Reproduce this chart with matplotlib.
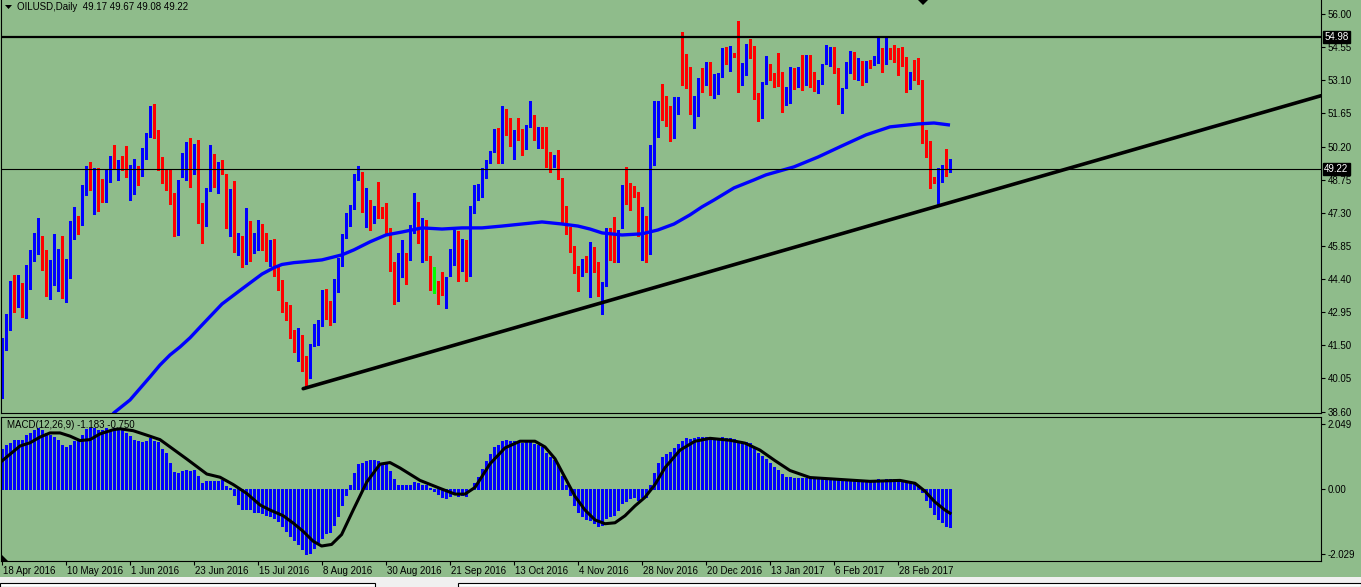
import matplotlib
matplotlib.use('Agg')
import matplotlib.pyplot as plt
import matplotlib.transforms as mtransforms
from matplotlib.patches import Rectangle, Polygon
import numpy as np

plt.rcParams['font.family'] = ['Liberation Sans', 'DejaVu Sans']

# ---- OILUSD daily candles ----
opens = [40.34,41.52,42.39,44.01,43.53,43.89,43.14,44.80,45.55,46.11,
         46.24,45.11,44.14,44.45,44.80,45.85,43.62,45.11,46.55,47.03,
         46.86,48.43,49.00,48.39,48.91,48.48,48.08,49.22,49.79,49.48,
         49.74,49.70,48.96,49.04,49.26,49.18,49.92,50.71,51.84,50.93,
         49.13,49.04,48.39,47.91,46.42,48.96,49.79,50.27,49.04,50.40,
         47.73,46.77,48.30,49.79,48.65,49.52,49.00,47.16,48.26,45.63,
         45.68,45.11,46.77,45.76,46.11,46.77,45.98,45.41,45.76,44.93,
         44.36,43.36,42.83,42.18,41.39,41.65,40.43,40.12,41.52,42.22,
         42.39,43.31,43.23,42.61,44.01,45.24,46.24,46.77,47.56,48.87,
         49.09,47.43,47.69,46.90,47.56,47.43,47.21,46.42,45.11,43.80,
         44.54,45.41,45.28,46.46,47.73,46.03,46.55,45.41,44.27,44.32,
         43.80,43.67,44.62,45.63,46.16,44.80,45.76,45.07,47.34,47.95,
         48.21,48.87,49.52,49.96,50.93,50.05,51.49,51.06,50.27,50.79,
         50.58,50.40,51.10,51.58,50.62,50.97,50.53,49.48,49.35,49.74,
         48.56,47.03,46.64,45.85,44.93,44.80,45.33,45.33,45.81,44.76,
         43.88,44.14,46.20,45.89,45.54,46.68,48.48,48.21,48.17,48.21,
         45.76,47.08,45.59,49.44,51.45,52.06,51.71,51.67,50.66,51.67,
         54.73,53.33,53.29,51.71,52.19,53.24,53.11,53.59,52.68,52.76,
         53.29,54.21,53.90,54.25,54.47,52.98,53.86,54.29,54.42,52.46,
         51.49,52.98,53.77,53.20,53.29,53.33,52.10,52.10,53.37,52.94,
         53.07,53.07,53.99,53.37,52.76,52.98,53.86,54.12,54.25,53.55,
         51.84,52.81,53.46,54.25,53.33,53.46,53.33,53.77,53.86,53.90,
         54.21,53.86,54.34,54.12,54.12,54.08,53.86,52.76,53.55,53.55,
         53.02,50.62,49.92,48.87,48.87,49.09,49.57,49.17]
highs = [41.83,42.88,44.32,44.58,44.58,44.23,45.02,45.68,46.42,47.08,
         46.29,45.68,45.24,46.38,45.72,46.29,45.28,46.94,47.56,47.16,
         48.52,49.35,49.52,49.26,49.26,48.78,49.22,49.79,50.27,49.61,
         49.79,50.23,49.39,49.66,49.35,50.14,50.79,51.98,52.06,50.93,
         49.74,49.18,49.18,48.17,48.74,49.92,50.40,50.58,50.31,50.49,
         47.73,48.39,50.27,49.87,49.52,49.61,49.00,48.34,48.69,46.42,
         46.29,47.51,46.94,46.42,46.99,46.81,46.42,46.11,46.16,45.02,
         44.36,43.40,43.27,42.18,42.26,41.96,41.04,41.56,42.44,42.61,
         43.93,43.97,43.44,44.41,45.33,46.38,47.29,47.64,49.00,49.35,
         49.09,48.39,47.86,47.60,48.65,47.56,47.73,46.64,45.15,45.55,
         46.11,45.55,46.77,48.17,47.78,47.08,46.99,45.41,44.93,44.32,
         44.71,44.49,45.72,46.55,46.51,46.16,46.11,47.60,48.52,48.56,
         49.26,49.61,50.01,50.97,51.01,51.98,51.84,51.45,50.93,51.45,
         50.97,51.14,52.19,51.58,51.06,51.06,51.06,49.96,49.83,50.05,
         48.83,47.60,46.68,45.85,44.98,45.28,45.41,46.03,45.81,45.15,
         44.27,46.64,46.64,47.12,46.55,48.52,49.31,48.61,48.48,48.21,
         47.56,47.16,50.27,52.19,52.19,52.94,52.41,51.98,52.37,52.37,
         55.21,54.25,53.68,52.41,53.20,53.64,53.90,53.90,53.37,53.42,
         54.51,54.56,54.60,54.29,55.69,53.86,54.69,54.91,54.60,52.54,
         53.02,54.16,53.81,53.42,54.29,53.46,52.81,53.68,53.64,53.68,
         54.21,54.21,54.21,53.46,53.11,53.81,54.64,54.56,54.56,53.64,
         52.76,53.90,54.38,54.34,54.08,53.95,53.95,53.99,54.16,54.95,
         54.51,54.95,54.51,54.64,54.51,54.56,54.12,53.46,53.99,54.08,
         53.11,50.93,50.44,48.87,49.26,49.39,50.09,49.67]
lows = [39.20,41.30,42.18,42.96,43.18,42.74,42.70,43.97,45.20,45.50,
        44.80,43.67,43.53,44.14,43.89,43.58,43.40,44.45,46.16,46.38,
        46.77,48.08,48.30,47.25,47.38,47.78,47.78,48.65,49.26,48.74,
        49.18,48.87,47.86,48.13,48.52,48.91,49.66,50.62,50.58,49.18,
        48.61,48.30,47.69,46.29,46.33,48.87,48.74,48.43,49.00,46.86,
        45.98,46.72,48.26,48.43,48.17,49.00,46.64,46.29,45.59,45.46,
        44.93,45.07,45.20,45.55,45.68,45.68,45.20,44.98,44.54,43.93,
        42.96,42.61,41.83,41.21,40.82,40.38,39.64,40.08,41.47,41.52,
        42.35,42.66,42.39,42.53,43.84,44.98,46.20,46.72,47.47,48.74,
        47.34,46.68,46.55,46.86,47.08,47.08,46.42,44.76,43.31,43.44,
        44.49,44.19,45.24,46.42,45.98,45.15,45.24,43.93,43.80,43.31,
        43.71,43.14,44.54,45.02,44.32,44.76,44.32,44.54,47.29,47.86,
        47.99,48.83,49.48,49.96,49.48,49.48,50.71,50.23,49.66,50.49,
        49.83,50.09,51.06,50.49,50.14,50.14,49.31,49.09,49.31,48.78,
        46.86,46.38,45.59,44.67,43.89,44.54,44.71,43.62,44.71,43.67,
        42.88,44.10,45.24,45.15,45.15,46.64,47.69,47.43,47.99,46.29,
        45.24,45.15,45.50,49.39,50.62,51.36,51.10,50.44,50.58,51.63,
        52.89,52.76,51.63,51.01,51.54,52.59,52.89,52.46,52.33,52.50,
        53.24,53.81,53.51,54.12,52.59,52.89,53.33,54.08,52.28,51.32,
        51.45,52.94,53.11,52.81,52.85,51.71,52.02,52.10,52.72,52.81,
        52.68,52.89,52.81,52.63,52.54,52.94,53.81,53.73,53.42,52.06,
        51.67,52.76,53.42,53.16,53.11,52.89,53.02,53.64,53.77,53.86,
        53.46,53.81,54.03,53.90,53.33,53.73,52.59,52.72,53.11,52.94,
        50.36,49.74,48.39,48.61,47.60,48.65,48.91,49.08]
closes = [41.52,42.48,44.01,43.53,43.89,43.14,44.84,45.55,46.16,46.29,
          45.11,44.19,44.36,44.80,44.98,43.62,45.02,46.55,47.03,46.86,
          48.52,49.22,48.34,48.74,48.43,48.08,49.13,49.79,49.39,49.57,
          49.66,48.91,49.09,49.22,49.00,49.96,50.79,51.89,50.84,49.35,
          49.04,48.34,47.91,46.42,48.69,49.83,50.23,49.04,50.23,47.73,
          46.77,48.34,49.79,48.69,49.52,49.09,47.16,48.26,45.63,45.68,
          45.02,47.21,45.72,46.11,46.90,45.85,45.41,45.72,44.58,44.67,
          43.18,42.74,42.05,41.35,41.74,40.43,40.08,41.52,42.22,42.39,
          43.31,43.23,42.61,44.01,45.24,46.24,46.99,47.56,48.96,49.13,
          47.38,47.64,46.86,47.56,47.51,47.12,46.46,45.11,43.75,44.67,
          45.50,45.20,46.46,47.73,46.03,46.46,45.37,44.10,44.27,43.75,
          43.78,44.45,45.68,46.16,44.80,45.72,45.02,47.34,47.95,48.34,
          48.87,49.44,49.96,50.88,49.92,51.45,51.10,50.27,50.79,50.62,
          50.36,51.06,51.63,50.58,51.01,50.53,49.35,49.35,49.74,48.83,
          46.90,46.55,45.68,44.89,44.36,45.28,45.15,45.81,44.76,43.75,
          44.14,46.29,45.72,45.41,46.42,48.34,47.73,48.04,48.04,46.33,
          47.12,45.59,49.31,51.27,52.15,51.45,51.45,50.49,51.67,52.15,
          53.11,53.20,51.67,52.06,53.07,53.07,53.55,52.54,52.81,53.42,
          54.08,53.86,54.16,54.21,52.94,53.81,54.25,54.24,52.32,51.36,
          52.98,53.68,53.20,52.98,53.20,52.10,52.15,53.24,52.85,52.98,
          52.98,53.81,53.24,52.68,52.98,53.77,53.99,54.21,53.46,52.10,
          52.72,53.42,54.12,53.20,53.42,53.33,53.77,53.68,53.95,54.21,
          53.90,54.34,54.08,54.03,54.08,53.77,52.63,53.42,53.33,52.98,
          50.44,49.92,48.69,48.83,48.96,49.39,49.13,49.22]

# moving average line
ma_bars = [27, 28, 32, 37, 39.5, 42, 44.5, 47, 50, 55, 60, 65, 68, 70, 73, 75, 80, 85, 88,
           92, 96, 100, 105, 110, 115, 120, 125, 130, 135, 140, 144, 147, 150, 155, 160,
           164, 168, 172, 175, 178, 183, 188, 191, 198, 204, 210, 216, 222, 229, 233, 237]
ma_vals = [38.33, 38.55, 39.11, 40.12, 40.64, 41.08, 41.43, 41.83, 42.39, 43.31, 43.97,
           44.62, 44.90, 45.04, 45.12, 45.15, 45.24, 45.46, 45.68, 46.03, 46.33, 46.46,
           46.64, 46.59, 46.64, 46.64, 46.72, 46.81, 46.90, 46.81, 46.72, 46.59, 46.42,
           46.33, 46.38, 46.55, 46.81, 47.21, 47.56, 47.86, 48.39, 48.74, 48.96, 49.31,
           49.74, 50.23, 50.71, 51.06, 51.19, 51.23, 51.14]

# MACD(12,26,9): main as histogram, signal as line
macd_hist = [1.28,1.38,1.46,1.56,1.56,1.56,1.69,1.77,1.85,1.92,
             1.85,1.77,1.72,1.64,1.54,1.38,1.34,1.38,1.51,1.54,
             1.69,1.89,1.92,1.92,1.87,1.85,1.92,1.87,1.94,1.94,
             1.92,1.77,1.67,1.54,1.51,1.48,1.51,1.61,1.53,1.48,
             1.28,1.15,0.82,0.53,0.50,0.56,0.61,0.57,0.61,0.43,
             0.20,0.25,0.25,0.25,0.25,0.28,0.09,0.04,-0.19,-0.47,
             -0.63,-0.63,-0.63,-0.72,-0.72,-0.75,-0.80,-0.83,-0.91,-1.01,
             -1.16,-1.32,-1.45,-1.60,-1.71,-1.88,-2.02,-1.99,-1.83,-1.66,
             -1.52,-1.37,-1.35,-1.11,-0.83,-0.49,-0.19,0.15,0.50,0.79,
             0.84,0.90,0.92,0.92,0.90,0.84,0.79,0.59,0.31,0.15,
             0.15,0.12,0.15,0.22,0.19,0.15,0.12,0.03,-0.06,-0.15,
             -0.25,-0.28,-0.22,-0.15,-0.22,-0.19,-0.22,0.02,0.19,0.40,
             0.65,0.90,1.11,1.33,1.39,1.51,1.54,1.51,1.51,1.48,
             1.45,1.48,1.51,1.42,1.39,1.33,1.14,1.02,0.93,0.74,
             0.43,0.12,-0.19,-0.49,-0.71,-0.83,-0.93,-0.96,-1.05,-1.14,
             -1.11,-0.90,-0.83,-0.80,-0.65,-0.43,-0.37,-0.28,-0.25,-0.34,
             -0.25,-0.25,0.12,0.52,0.83,1.02,1.11,1.17,1.30,1.42,
             1.51,1.60,1.57,1.60,1.64,1.64,1.64,1.60,1.60,1.60,
             1.64,1.60,1.60,1.57,1.51,1.48,1.48,1.45,1.33,1.14,
             1.05,0.96,0.83,0.71,0.62,0.49,0.40,0.40,0.37,0.34,
             0.34,0.34,0.34,0.31,0.31,0.34,0.34,0.37,0.34,0.28,
             0.28,0.28,0.31,0.31,0.28,0.28,0.28,0.28,0.28,0.31,
             0.28,0.31,0.31,0.31,0.28,0.28,0.22,0.22,0.22,0.15,
             -0.09,-0.34,-0.56,-0.77,-0.93,-1.02,-1.14,-1.18]
sig_bars = [-0.5, 2, 4.5, 7, 9.5, 12, 14.5, 17, 19.5, 22, 24.5, 27.8, 29.5, 32.8, 36.2,
            39.5, 42.8, 46.2, 49.5, 51.2, 54.5, 57.8, 61.2, 64.5, 67, 70.3, 72.8, 75.3,
            77.8, 79.9, 82.4, 84.9, 87.8, 91.2, 94.5, 97, 99.5, 104.5, 109.5, 113.25,
            115.75, 118.25, 122, 125.75, 129.5, 133.25, 135.75, 138.25, 140.75, 143.25,
            145.75, 148.25, 150.75, 153.25, 155.75, 158.25, 160.75, 163.25, 165.75,
            169.5, 173.25, 177, 182, 185.75, 189.5, 193.25, 197, 202, 209.5, 217, 224.5,
            228.25, 230.75, 233.25, 235.75, 237]
sig_vals = [0.84, 1.10, 1.36, 1.46, 1.64, 1.77, 1.77, 1.67, 1.53, 1.56, 1.74, 1.87, 1.90,
            1.84, 1.70, 1.56, 1.26, 0.95, 0.64, 0.48, 0.38, 0.15, -0.13, -0.49, -0.65,
            -0.83, -1.06, -1.32, -1.63, -1.78, -1.73, -1.42, -0.65, 0.23, 0.79, 0.84,
            0.67, 0.28, 0.03, -0.15, -0.15, 0.06, 0.80, 1.30, 1.51, 1.51, 1.33, 0.96,
            0.37, -0.22, -0.65, -0.96, -1.08, -1.05, -0.83, -0.52, -0.25, 0.15, 0.68,
            1.23, 1.51, 1.60, 1.54, 1.45, 1.23, 0.90, 0.59, 0.37, 0.31, 0.25, 0.28,
            0.19, -0.06, -0.40, -0.65, -0.75]

date_labels = ['18 Apr 2016', '10 May 2016', '1 Jun 2016', '23 Jun 2016', '15 Jul 2016',
               '8 Aug 2016', '30 Aug 2016', '21 Sep 2016', '13 Oct 2016', '4 Nov 2016',
               '28 Nov 2016', '20 Dec 2016', '13 Jan 2017', '6 Feb 2017', '28 Feb 2017']
date_step = 16
price_ticks = [56.00, 54.55, 53.10, 51.65, 50.20, 48.75, 47.30, 45.85, 44.40, 42.95,
               41.50, 40.05, 38.60]
resistance = 54.98
last_price = 49.22
trend_anchor_bars = [76, 234]
trend_anchor_prices = [39.64, 47.60]

bg = '#8FBC8B'
W, H = 1361, 587
fig = plt.figure(figsize=(W / 100, H / 100), dpi=100, facecolor=bg)

def fx(px):
    return px / W

def fy(py):
    return 1 - py / H

ax = fig.add_axes([fx(1), fy(413), fx(1321) - fx(1), fy(0) - fy(413)])
ax2 = fig.add_axes([fx(1), fy(561), fx(1321) - fx(1), fy(417) - fy(561)])
for a in (ax, ax2):
    a.set_facecolor(bg)
    for s in a.spines.values():
        s.set_linewidth(0.8)
    a.set_xlim(-0.25, 329.75)
ax.spines['top'].set_visible(False)

body_lw = 3 * 72 / 100   # 3 px wide bodies
o = np.array(opens); h = np.array(highs); l = np.array(lows); c = np.array(closes)
idx = np.arange(len(c))
cols = np.where(c > o, '#0000FF', np.where(c < o, '#FF0000', '#00FF00'))
ax.vlines(idx, l, h, colors=cols, lw=0.75, antialiased=False)
lo_b = np.minimum(o, c)
hi_b = np.maximum(np.maximum(o, c), lo_b + 0.045)
ax.vlines(idx, lo_b, hi_b, colors=cols, lw=body_lw, antialiased=False, capstyle='butt')

ax.plot(ma_bars, ma_vals, color='#0000FF', lw=2.4, solid_capstyle='butt',
        solid_joinstyle='round')
ax.axhline(resistance, color='black', lw=1.6)
ax.axhline(last_price, color='black', lw=0.8)

# trend line through the two lows, extended to the right edge
slope = (trend_anchor_prices[1] - trend_anchor_prices[0]) / (trend_anchor_bars[1] - trend_anchor_bars[0])
tx = np.array([75.3, 329.75])
ty = trend_anchor_prices[0] + slope * (tx - trend_anchor_bars[0])
ax.plot(tx, ty, color='black', lw=2.6, solid_capstyle='round')

ax.set_ylim(38.54, 56.612)
ax.yaxis.tick_right()
ax.set_yticks(price_ticks)
ax.set_yticklabels([f'{v:.2f}' for v in price_ticks])
ax.tick_params(axis='y', length=3, width=0.8, pad=2, labelsize=7, colors='black')
ax.set_xticks([])

tr = mtransforms.blended_transform_factory(ax.transAxes, ax.transData)
for val in (resistance, last_price):
    ax.text(1.0025, val, f'{val:.2f}', transform=tr, ha='left', va='center', fontsize=7,
            color='white', bbox=dict(boxstyle='square,pad=0.12', fc='black', ec='black'))

ax.text(16 / 1320, 1 - 7 / 413, 'OILUSD,Daily  49.17 49.67 49.08 49.22',
        transform=ax.transAxes, ha='left', va='center', fontsize=7, color='black')

# MACD panel
ax2.vlines(idx, 0, macd_hist, colors='#0000FF', lw=body_lw, antialiased=False,
           capstyle='butt')
ax2.plot(sig_bars, sig_vals, color='black', lw=2.2, solid_joinstyle='round')
ax2.set_ylim(-2.25, 2.27)
ax2.yaxis.tick_right()
ax2.set_yticks([2.049, 0.0, -2.029])
ax2.set_yticklabels(['2.049', '0.00', '-2.029'])
ax2.tick_params(axis='y', length=3, width=0.8, pad=2, labelsize=7, colors='black')
ax2.set_xticks([i * date_step for i in range(len(date_labels))])
ax2.set_xticklabels([])
ax2.tick_params(axis='x', length=3, width=0.8, direction='out')
trx = mtransforms.blended_transform_factory(ax2.transData, ax2.transAxes)
for i, lab in enumerate(date_labels):
    ax2.text(i * date_step + 0.2, -0.035, lab, transform=trx, ha='left', va='top',
             fontsize=7, color='black')
ax2.text(6 / 1320, 1 - 8 / 144, 'MACD(12,26,9) -1.183 -0.750', transform=ax2.transAxes,
         ha='left', va='center', fontsize=7, color='black')

# chart decorations in pixel positions
def P(pts):
    return [(fx(x), fy(y)) for x, y in pts]

fig.patches.append(Polygon(P([(5, 5), (12, 5), (8.5, 9)]), closed=True, fc='black', ec='none',
                           transform=fig.transFigure))
fig.patches.append(Polygon(P([(918, 0), (928, 0), (923, 5)]), closed=True, fc='black', ec='none',
                           transform=fig.transFigure))
fig.patches.append(Polygon(P([(2, 555), (2, 561), (8, 561)]), closed=True, fc='black', ec='none',
                           transform=fig.transFigure))
fig.patches.append(Rectangle((0, 0), 1, fy(577), fc='#F0F0F0', ec='none', transform=fig.transFigure))
fig.patches.append(Rectangle((fx(0), 0), fx(375), fy(583), fc='white', ec='black', lw=0.8,
                             transform=fig.transFigure))
fig.patches.append(Rectangle((fx(458), 0), fx(1361) - fx(458), fy(583), fc='white', ec='black',
                             lw=0.8, transform=fig.transFigure))

fig.savefig('out.png', dpi=100, facecolor=bg)
